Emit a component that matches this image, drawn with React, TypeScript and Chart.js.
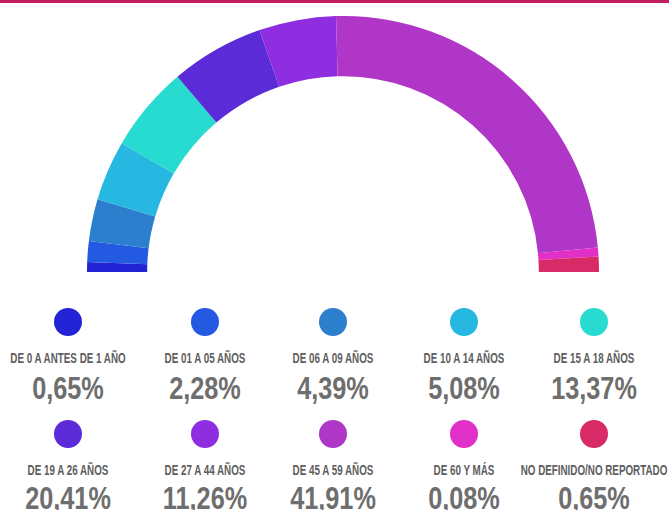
import React, { useEffect, useRef } from "react";
import { Chart, registerables } from "chart.js";

Chart.register(...registerables);

const categories = [
  "DE 0 A ANTES DE 1 AÑO",
  "DE 01 A 05 AÑOS",
  "DE 06 A 09 AÑOS",
  "DE 10 A 14 AÑOS",
  "DE 15 A 18 AÑOS",
  "DE 19 A 26 AÑOS",
  "DE 27 A 44 AÑOS",
  "DE 45 A 59 AÑOS",
  "DE 60 Y MÁS",
  "NO DEFINIDO/NO REPORTADO",
];

// arc shares as drawn in the picture
const arcShares = [1.24, 2.62, 5.3, 7.61, 10.83, 11.8, 9.7, 47.8, 1.1, 1.94];

// percentages printed in the legend
const percentLabels = [
  "0,65%",
  "2,28%",
  "4,39%",
  "5,08%",
  "13,37%",
  "20,41%",
  "11,26%",
  "41,91%",
  "0,08%",
  "0,65%",
];

const colors = [
  "#2323d6",
  "#2459e2",
  "#2b7fcc",
  "#27b8e2",
  "#27dbd0",
  "#5a2bd7",
  "#8e2ee0",
  "#b036c7",
  "#e030c8",
  "#d82a66",
];

const colCenters = [68, 205, 333, 464, 594];
const rowLayout = [
  { circle: 321.5, label: 349.5, pct: 371.5 },
  { circle: 434, label: 462, pct: 481.5 },
];

const FONT = '"Liberation Sans", Arial, sans-serif';

export default function App() {
  const ref = useRef<HTMLCanvasElement | null>(null);

  useEffect(() => {
    if (!ref.current) return;
    const chart = new Chart(ref.current, {
      type: "doughnut",
      data: {
        labels: categories,
        datasets: [
          {
            data: arcShares,
            backgroundColor: colors,
            borderWidth: 0,
          },
        ],
      },
      options: {
        responsive: false,
        maintainAspectRatio: false,
        animation: false,
        rotation: -90,
        circumference: 180,
        cutout: "76.5%",
        layout: { padding: 0 },
        plugins: {
          legend: { display: false },
          tooltip: { enabled: false },
        },
      },
    });
    return () => chart.destroy();
  }, []);

  return (
    <div
      style={{
        position: "fixed",
        left: 0,
        top: 0,
        width: 669,
        height: 510,
        background: "#fff",
        overflow: "hidden",
      }}
    >
      <div
        style={{
          position: "absolute",
          left: 0,
          top: 0,
          width: 669,
          height: 3,
          background: "#c61f5f",
        }}
      />
      <div style={{ position: "absolute", left: 87, top: 16, width: 512, height: 256 }}>
        <canvas ref={ref} width={512} height={256} style={{ display: "block" }} />
      </div>
      {categories.map((cat, i) => {
        const row = rowLayout[Math.floor(i / 5)];
        const cx = colCenters[i % 5];
        return (
          <React.Fragment key={cat}>
            <div
              style={{
                position: "absolute",
                left: cx - 14,
                top: row.circle - 14,
                width: 28,
                height: 28,
                borderRadius: "50%",
                background: colors[i],
              }}
            />
            <div
              style={{
                position: "absolute",
                left: cx - 150,
                width: 300,
                top: row.label,
                textAlign: "center",
                fontFamily: FONT,
                fontWeight: "bold",
                fontSize: 15,
                lineHeight: "15px",
                color: "#5e5e5e",
                whiteSpace: "nowrap",
                transform: "scaleX(0.655)",
              }}
            >
              {cat}
            </div>
            <div
              style={{
                position: "absolute",
                left: cx - 100,
                width: 200,
                top: row.pct,
                textAlign: "center",
                fontFamily: FONT,
                fontWeight: "bold",
                fontSize: 32,
                lineHeight: "32px",
                color: "#6e6e6e",
                whiteSpace: "nowrap",
                transform: "scaleX(0.79)",
              }}
            >
              {percentLabels[i]}
            </div>
          </React.Fragment>
        );
      })}
    </div>
  );
}
